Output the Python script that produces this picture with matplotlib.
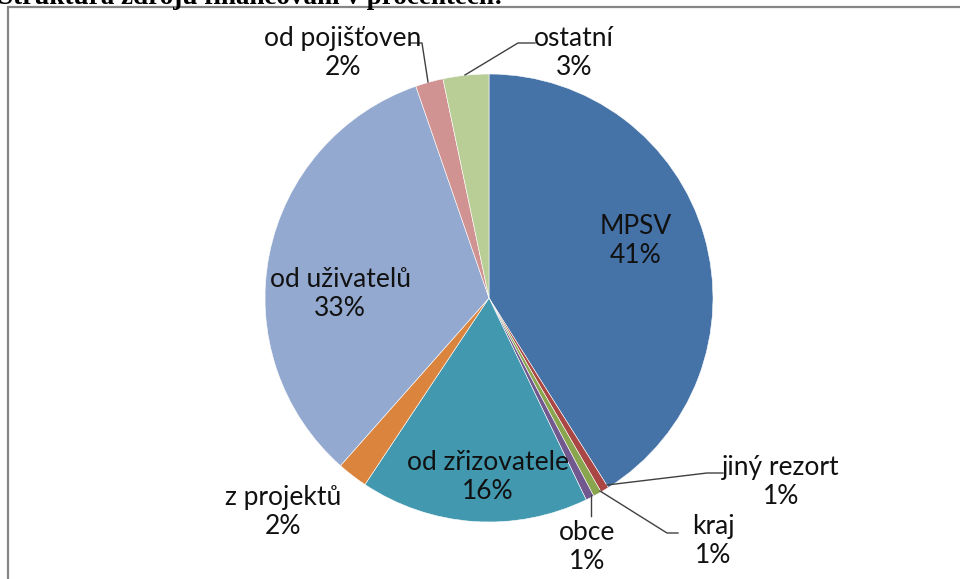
import matplotlib
matplotlib.use("Agg")
import matplotlib.pyplot as plt
from matplotlib.patches import Rectangle

# Data
categories = ["MPSV", "jiný rezort", "kraj", "obce", "od zřizovatele",
              "z projektů", "od uživatelů", "od pojišťoven", "ostatní"]
values = [41.1, 0.6, 0.6, 0.6, 16.5, 2.2, 33.2, 2.0, 3.3]
pct_labels = ["41%", "1%", "1%", "1%", "16%", "2%", "33%", "2%", "3%"]
colors = ["#4572A7", "#AA4643", "#89A54E", "#71588F", "#4198AF",
          "#DB843D", "#93A9CF", "#D19392", "#B9CD96"]
title = "Struktura zdrojů financování v procentech:"

W, H = 960, 579
fig = plt.figure(figsize=(W / 100, H / 100), dpi=100)
ax = fig.add_axes([0, 0, 1, 1])
ax.set_xlim(0, W)
ax.set_ylim(0, H)
ax.set_aspect("equal")
ax.axis("off")

def Y(y):
    return H - y

# frame
ax.add_patch(Rectangle((8, Y(600)), 1000, 593, fill=False,
                       edgecolor="#868686", linewidth=1.6))

# title (cut off at top)
ax.text(-2, Y(3.5), title, fontsize=19.5, fontweight="bold",
        family="Liberation Serif", ha="left", va="baseline", color="black")

# pie
ax.pie(values, colors=colors, startangle=90, counterclock=False,
       center=(489, Y(298)), radius=224,
       wedgeprops=dict(edgecolor="white", linewidth=0.4))
ax.set_xlim(0, W)
ax.set_ylim(0, H)

font = dict(family="Lato", fontsize=19, color="#111111")

label_pos = {
    "MPSV": (636, 241),
    "jiný rezort": (781, 482),
    "kraj": (713, 541),
    "obce": (587, 547),
    "od zřizovatele": (488, 477),
    "z projektů": (283, 512),
    "od uživatelů": (340, 294),
    "od pojišťoven": (343, 53),
    "ostatní": (574, 53),
}
for cat, pct in zip(categories, pct_labels):
    x, y = label_pos[cat]
    ax.text(x, Y(y), f"{cat}\n{pct}", ha="center", va="center",
            linespacing=1.2, **font)

leaders = [
    [(607, 485), (707, 473), (723, 473)],
    [(600, 491), (667, 533), (678, 533)],
    [(591, 495), (591, 516)],
    [(410, 43), (422, 43), (428, 82)],
    [(535, 43), (518, 43), (465, 75)],
]
for pts in leaders:
    xs = [p[0] for p in pts]
    ys = [Y(p[1]) for p in pts]
    ax.plot(xs, ys, color="#404040", linewidth=1.0)

fig.savefig("out.png", dpi=100)
